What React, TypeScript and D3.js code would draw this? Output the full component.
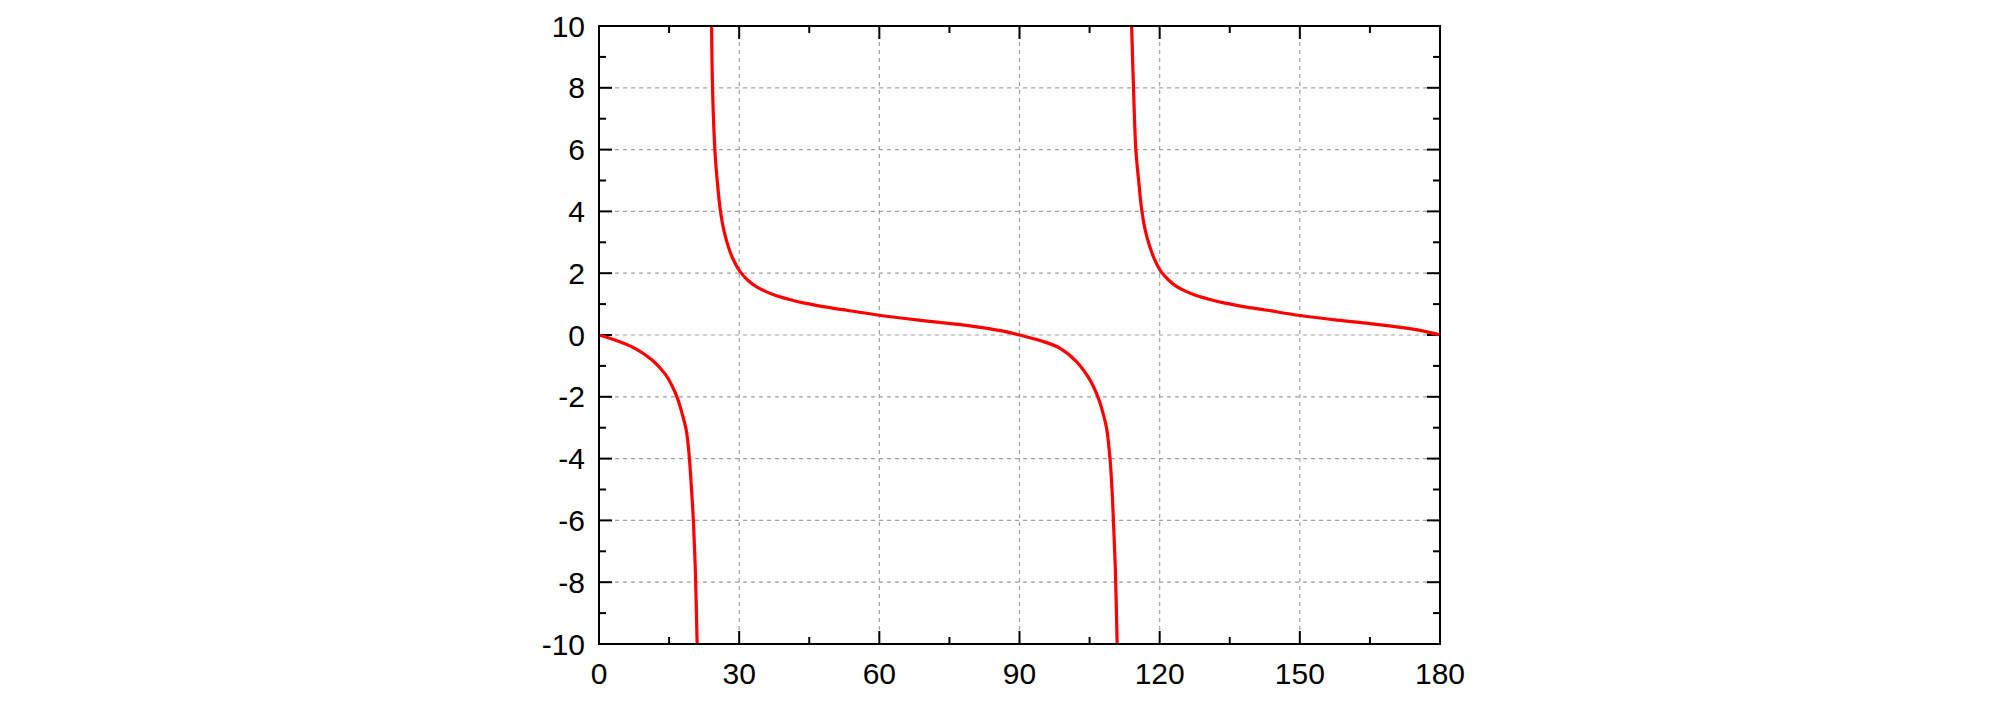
import React from "react";
import * as d3 from "d3";

const xTicks = [0, 30, 60, 90, 120, 150, 180];
const xMinor = [15, 45, 75, 105, 135, 165];
const yTicks = [-10, -8, -6, -4, -2, 0, 2, 4, 6, 8, 10];
const yMinor = [-9, -7, -5, -3, -1, 1, 3, 5, 7, 9];

const seg1: [number, number][] = [
  [0, 0], [3.4, -0.16], [7.7, -0.43], [11.3, -0.8], [14.1, -1.25], [15.5, -1.6], [16.8, -2.05],
  [17.9, -2.6], [18.7, -3.1], [19.3, -3.9], [19.8, -5.0], [20.2, -6.0], [20.6, -7.5], [21.0, -10],
];
const seg2: [number, number][] = [
  [24.1, 10], [24.3, 8], [24.8, 6], [25.3, 5], [26.0, 4], [26.7, 3.4], [27.6, 2.9], [28.7, 2.45],
  [30.2, 2.05], [31.8, 1.78], [33.5, 1.58], [35.5, 1.42], [38, 1.27], [41, 1.14], [44, 1.03],
  [48, 0.92], [53, 0.8], [60, 0.64], [68, 0.49], [75.8, 0.36], [82, 0.24], [86, 0.14], [90, 0],
  [94.4, -0.18], [98.7, -0.43], [102.2, -0.86], [105.1, -1.46], [106.9, -2.05], [108, -2.6],
  [108.7, -3.07], [109.4, -4.05], [109.8, -5.0], [110.1, -6.0], [110.5, -7.5], [110.9, -10],
];
const seg3: [number, number][] = [
  [114.0, 10], [114.4, 8], [114.9, 6], [115.5, 5], [116.2, 4], [116.9, 3.4], [117.8, 2.9],
  [118.9, 2.45], [120.3, 2.05], [121.9, 1.78], [123.5, 1.58], [125.5, 1.42], [128, 1.27],
  [131, 1.14], [134, 1.03], [138, 0.92], [143, 0.8], [150, 0.63], [158, 0.48], [165, 0.37],
  [172, 0.24], [176, 0.14], [180, 0],
];
const segments = [seg1, seg2, seg3];

const W = 2008, H = 702;
const L = 599, R = 1440, T = 26, B = 644;

export default function App() {
  const x = d3.scaleLinear().domain([0, 180]).range([L, R]);
  const y = d3.scaleLinear().domain([-10, 10]).range([B, T]);
  const line = d3.line<[number, number]>().x(d => x(d[0])).y(d => y(d[1])).curve(d3.curveCatmullRom.alpha(0.5));
  const font = "'Liberation Sans', Arial, sans-serif";
  const gridColor = "#a0a0a0";
  return (
    <svg width={W} height={H} style={{ position: "absolute", left: 0, top: 0, background: "#fff" }}>
      <defs>
        <clipPath id="plot">
          <rect x={L} y={T} width={R - L} height={B - T} />
        </clipPath>
      </defs>
      {xTicks.filter(t => t > 0 && t < 180).map(t => (
        <line key={"gx" + t} x1={x(t)} x2={x(t)} y1={T} y2={B} stroke={gridColor} strokeWidth={1.2} strokeDasharray="4,4" />
      ))}
      {yTicks.filter(t => t > -10 && t < 10).map(t => (
        <line key={"gy" + t} x1={L} x2={R} y1={y(t)} y2={y(t)} stroke={gridColor} strokeWidth={1.2} strokeDasharray="4,4" />
      ))}
      {xTicks.map(t => (
        <g key={"tx" + t}>
          <line x1={x(t)} x2={x(t)} y1={B} y2={B - 13} stroke="#000" strokeWidth={2} />
          <line x1={x(t)} x2={x(t)} y1={T} y2={T + 13} stroke="#000" strokeWidth={2} />
        </g>
      ))}
      {xMinor.map(t => (
        <g key={"mx" + t}>
          <line x1={x(t)} x2={x(t)} y1={B} y2={B - 7} stroke="#000" strokeWidth={2} />
          <line x1={x(t)} x2={x(t)} y1={T} y2={T + 7} stroke="#000" strokeWidth={2} />
        </g>
      ))}
      {yTicks.map(t => (
        <g key={"ty" + t}>
          <line x1={L} x2={L + 13} y1={y(t)} y2={y(t)} stroke="#000" strokeWidth={2} />
          <line x1={R} x2={R - 13} y1={y(t)} y2={y(t)} stroke="#000" strokeWidth={2} />
        </g>
      ))}
      {yMinor.map(t => (
        <g key={"my" + t}>
          <line x1={L} x2={L + 7} y1={y(t)} y2={y(t)} stroke="#000" strokeWidth={2} />
          <line x1={R} x2={R - 7} y1={y(t)} y2={y(t)} stroke="#000" strokeWidth={2} />
        </g>
      ))}
      <g clipPath="url(#plot)">
        {segments.map((s, i) => (
          <path key={i} d={line(s) || ""} fill="none" stroke="#ff0000" strokeWidth={3.2} strokeLinejoin="round" />
        ))}
      </g>
      <rect x={L} y={T} width={R - L} height={B - T} fill="none" stroke="#000" strokeWidth={2} />
      {xTicks.map(t => (
        <text key={"lx" + t} x={x(t)} y={684} textAnchor="middle" fontFamily={font} fontSize={30} fill="#000">{t}</text>
      ))}
      {yTicks.map(t => (
        <text key={"ly" + t} x={L - 14} y={y(t) + 10.5} textAnchor="end" fontFamily={font} fontSize={30} fill="#000">{t}</text>
      ))}
    </svg>
  );
}
